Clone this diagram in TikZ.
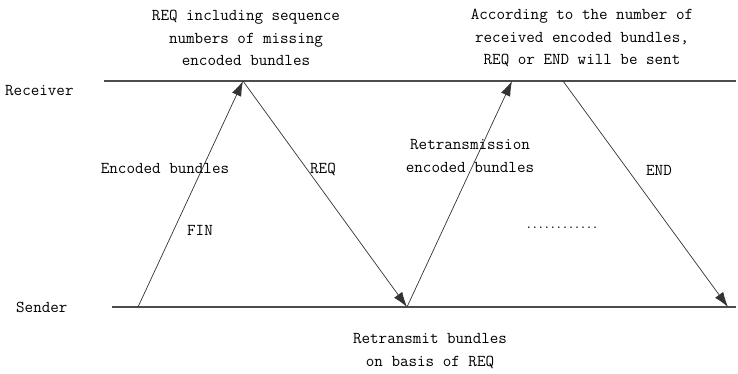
\documentclass[tikz,border=0pt]{standalone}
\usetikzlibrary{arrows.meta}
\begin{document}
\begin{tikzpicture}[x=1pt,y=-1pt,
  lbl/.style={inner sep=0pt,align=center,font=\ttfamily\fontsize{16.6}{22.5}\selectfont},
  axisline/.style={line width=1.2pt,draw=black!70},
  msg/.style={line width=0.7pt,draw=black!80,-{Latex[length=15pt,width=10pt]}}]
\useasboundingbox (0,0) rectangle (738,373);
% time lines
\coordinate (rl) at (104,81);
\coordinate (rr) at (736,81);
\coordinate (sl) at (112,307);
\coordinate (sr) at (736,307);
\draw[axisline] (rl) -- (rr);
\draw[axisline] (sl) -- (sr);
% event points
\coordinate (s1) at (138,307);
\coordinate (r1) at (243,81);
\coordinate (s2) at (407,307);
\coordinate (r2) at (512,81);
\coordinate (r3) at (563,81);
\coordinate (s3) at (728,307);
\draw[msg] (s1) -- (r1);
\draw[msg] (r1) -- (s2);
\draw[msg] (s2) -- (r2);
\draw[msg] (r3) -- (s3);
% labels
\node[lbl,anchor=west] (recv) at (5,91) {Receiver};
\node[lbl,anchor=west] (send) at (16,307) {Sender};
\node[lbl] (t1) at (246,38) {REQ including sequence\\numbers of missing\\encoded bundles};
\node[lbl] (t2) at (582,38) {According to the number of\\received encoded bundles,\\REQ or END will be sent};
\node[lbl] (enc) at (165,168) {Encoded bundles};
\node[lbl] (req) at (323,169) {REQ};
\node[lbl] (fin) at (200,230) {FIN};
\node[lbl] (rte) at (470,156) {Retransmission\\encoded bundles};
\node[lbl] (endl) at (659,170) {END};
\node[lbl,font=\ttfamily\bfseries\fontsize{11.5}{14}\selectfont] (dots) at (562,228) {............};
\node[lbl] (bot) at (430,351) {Retransmit bundles\\on basis of REQ};
\end{tikzpicture}
\end{document}
